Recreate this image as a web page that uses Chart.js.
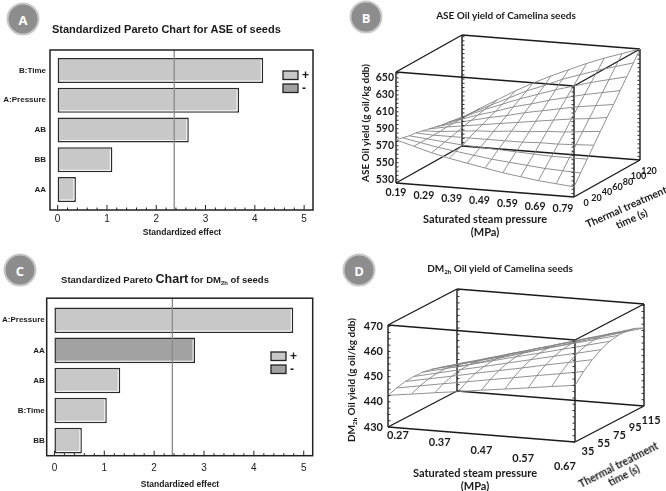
<!DOCTYPE html>
<html><head><meta charset="utf-8">
<script src="https://cdn.jsdelivr.net/npm/chart.js@4.4.1/dist/chart.umd.min.js"></script>
<style>
html,body{margin:0;padding:0;background:#fff;}
body{width:666px;height:491px;position:relative;overflow:hidden;}
.box{position:absolute;}
.t{position:absolute;white-space:nowrap;color:#1a1a1a;transform:translate(-50%,-50%);line-height:1;}
.pt{font-family:"Liberation Sans",Arial,sans-serif;font-weight:bold;}
.lt{font-family:Lato,"Open Sans",sans-serif;font-weight:bold;}
.badge{position:absolute;width:29px;height:29px;border-radius:50%;background:#8d8d8d;border:2px solid #c8c8c8;color:#fff;font:bold 13px "Open Sans",sans-serif;display:flex;align-items:center;justify-content:center;transform:translate(-50%,-50%);}
sub{font-size:62%;vertical-align:-2px;line-height:0;}
</style></head><body>
<div class="box" style="left:0;top:0;width:333px;height:245px"><canvas id="cA"></canvas></div>
<div class="box" style="left:333px;top:0;width:333px;height:245px"><canvas id="cB"></canvas></div>
<div class="box" style="left:0;top:245px;width:333px;height:246px"><canvas id="cC"></canvas></div>
<div class="box" style="left:333px;top:245px;width:333px;height:246px"><canvas id="cD"></canvas></div>

<div class="badge" style="left:23px;top:19px">A</div>
<div class="badge" style="left:366px;top:17px">B</div>
<div class="badge" style="left:20px;top:270px">C</div>
<div class="badge" style="left:359px;top:270px">D</div>

<div class="t pt" style="left:52px;top:29px;font-size:11px;transform:translate(0,-50%)">Standardized Pareto Chart for ASE of seeds</div>
<div class="t pt" style="left:182px;top:232px;font-size:8.5px">Standardized effect</div>
<div class="t pt" style="left:165px;top:279px;font-size:9.5px">Standardized Pareto <span style="font-size:12.5px">Chart</span> for DM<sub>2h</sub> of seeds</div>
<div class="t pt" style="left:180px;top:484px;font-size:8.5px">Standardized effect</div>

<div class="t lt" style="left:506px;top:15px;font-size:10px">ASE Oil yield of Camelina seeds</div>
<div class="t lt" style="left:365px;top:123px;font-size:10px;transform:translate(-50%,-50%) rotate(-90deg)">ASE Oil yield (g oil/kg ddb)</div>
<div class="t lt" style="left:485px;top:218px;font-size:11px">Saturated steam pressure</div>
<div class="t lt" style="left:485px;top:231px;font-size:11px">(MPa)</div>
<div class="t lt" style="left:629px;top:213px;font-size:10.5px;line-height:13px;text-align:center;transform:translate(-50%,-50%) rotate(-24deg)">Thermal treatment<br>time (s)</div>

<div class="t lt" style="left:500px;top:268px;font-size:10px">DM<sub>2h</sub> Oil yield of Camelina seeds</div>
<div class="t lt" style="left:351px;top:380px;font-size:10px;transform:translate(-50%,-50%) rotate(-90deg)">DM<sub>2h</sub> Oil yield (g oil/kg ddb)</div>
<div class="t lt" style="left:475px;top:472px;font-size:11px">Saturated steam pressure</div>
<div class="t lt" style="left:475px;top:485px;font-size:11px">(MPa)</div>
<div class="t lt" style="left:621px;top:470px;font-size:10.5px;line-height:12px;text-align:center;transform:translate(-50%,-50%) rotate(-27deg)">Thermal treatment<br>time (s)</div>

<script>
// ================= DATA =================
// Panel A: Standardized Pareto chart, ASE
const paretoA_terms   = ['B:Time', 'A:Pressure', 'AB', 'BB', 'AA'];
const paretoA_effects = [4.17, 3.68, 2.66, 1.11, 0.37];
const paretoA_signs   = ['+', '+', '+', '+', '+'];
// Panel C: Standardized Pareto chart, DM2h
const paretoC_terms   = ['A:Pressure', 'AA', 'AB', 'B:Time', 'BB'];
const paretoC_effects = [4.79, 2.82, 1.32, 1.05, 0.55];
const paretoC_signs   = ['+', '-', '+', '+', '+'];
const criticalValue   = 2.365;
const paretoTicks     = [0, 1, 2, 3, 4, 5];

// Panel B: ASE oil yield surface (rows = time, cols = pressure)
const aseP = [0.19, 0.25, 0.31, 0.37, 0.43, 0.49, 0.55, 0.61, 0.67, 0.73, 0.79];
const aseT = [0, 12, 24, 36, 48, 60, 72, 84, 96, 108, 120];
const aseYield = [
  [577, 571, 565, 560, 556, 552, 548, 545, 542, 540, 538],
  [575, 571, 567, 564, 561, 558, 556, 554, 552, 551, 550],
  [573, 571, 569, 567, 566, 565, 564, 563, 562, 562, 562],
  [572, 571, 571, 571, 571, 571, 571, 572, 572, 573, 574],
  [570, 571, 573, 575, 576, 578, 579, 581, 582, 584, 586],
  [568, 572, 575, 578, 581, 584, 587, 590, 593, 595, 598],
  [566, 572, 577, 582, 586, 591, 595, 599, 603, 606, 609],
  [564, 572, 579, 585, 592, 597, 603, 608, 613, 617, 621],
  [563, 572, 581, 589, 597, 604, 611, 617, 623, 628, 633],
  [561, 572, 582, 592, 602, 610, 619, 626, 633, 639, 645],
  [559, 572, 584, 596, 607, 617, 626, 635, 643, 650, 657]
];
const asePTicks = [0.19, 0.29, 0.39, 0.49, 0.59, 0.69, 0.79];
const aseTTicks = [0, 20, 40, 60, 80, 100, 120];
const aseZTicks = [530, 550, 570, 590, 610, 630, 650];
const aseRange  = {p: [0.19, 0.79], t: [0, 120], z: [526, 657]};

// Panel D: DM2h oil yield surface (rows = time, cols = pressure)
const dmP = [0.27, 0.32, 0.37, 0.42, 0.47, 0.52, 0.57, 0.62, 0.67];
const dmT = [35, 45, 55, 65, 75, 85, 95, 105, 115];
const dmYield = [
  [442.6, 443.8, 445.1, 446.3, 447.6, 448.8, 450.0, 451.3, 452.5],
  [443.7, 445.3, 446.9, 448.4, 450.0, 451.5, 453.1, 454.6, 456.2],
  [444.5, 446.3, 448.1, 450.0, 451.8, 453.6, 455.5, 457.3, 459.1],
  [444.7, 446.8, 448.9, 450.9, 453.0, 455.1, 457.2, 459.2, 461.3],
  [444.6, 446.8, 449.1, 451.4, 453.7, 455.9, 458.2, 460.5, 462.8],
  [443.9, 446.4, 448.8, 451.2, 453.7, 456.1, 458.6, 461.0, 463.4],
  [442.9, 445.5, 448.0, 450.6, 453.1, 455.7, 458.3, 460.8, 463.4],
  [441.4, 444.1, 446.7, 449.4, 452.0, 454.6, 457.3, 459.9, 462.6],
  [439.5, 442.2, 444.9, 447.6, 450.3, 452.9, 455.6, 458.3, 461.0]
];
const dmPTicks = [0.27, 0.37, 0.47, 0.57, 0.67];
const dmTTicks = [35, 55, 75, 95, 115];
const dmZTicks = [430, 440, 450, 460, 470];
const dmRange  = {p: [0.27, 0.67], t: [35, 115], z: [430, 470.5]};

// ================= RENDERING =================
const POS = '#c8c8c8', NEG = '#a2a2a2', INK = '#1a1a1a';

function paretoChart(id, terms, effects, signs, g) {
  const deco = {
    id: 'paretoDeco',
    afterDatasetsDraw(chart) {
      const ctx = chart.ctx, ca = chart.chartArea, xs = chart.scales.x;
      ctx.save();
      chart.getDatasetMeta(0).data.forEach(b => {
        const p = b.getProps(['x', 'y', 'base', 'height'], true);
        const t = p.y - p.height / 2, bt = p.y + p.height / 2;
        ctx.strokeStyle = 'rgba(255,255,255,0.9)';
        ctx.lineWidth = 1;
        ctx.beginPath();
        ctx.moveTo(p.x - 2, t + 2); ctx.lineTo(p.x - 2, bt - 2); ctx.lineTo(p.base + 2, bt - 2);
        ctx.stroke();
      });
      const xr = xs.getPixelForValue(criticalValue);
      ctx.strokeStyle = '#8a8a8a'; ctx.lineWidth = 1.3;
      ctx.beginPath(); ctx.moveTo(xr, ca.top - g.ft); ctx.lineTo(xr, ca.bottom + g.fb); ctx.stroke();
      ctx.restore();
    },
    afterDraw(chart) {
      const ctx = chart.ctx, ca = chart.chartArea, xs = chart.scales.x;
      const top = ca.top - g.ft, bot = ca.bottom + g.fb;
      ctx.save();
      ctx.strokeStyle = '#222'; ctx.lineWidth = 1.5;
      ctx.strokeRect(ca.left, top, ca.right - ca.left, bot - top);
      ctx.lineWidth = 1;
      const last = paretoTicks[paretoTicks.length - 1];
      for (let k = 0; k <= last * 5; k++) {
        const x = xs.getPixelForValue(k / 5);
        ctx.beginPath(); ctx.moveTo(x, bot); ctx.lineTo(x, bot - (k % 5 === 0 ? 5 : 2.5)); ctx.stroke();
      }
      [['+', POS], ['-', NEG]].forEach((L, i) => {
        const y = g.ly + i * 13;
        ctx.fillStyle = L[1]; ctx.fillRect(g.lx, y, 15, 8.5);
        ctx.strokeStyle = '#222'; ctx.lineWidth = 1.3; ctx.strokeRect(g.lx, y, 15, 8.5);
        ctx.fillStyle = INK; ctx.font = 'bold 12px "Liberation Sans"';
        ctx.textAlign = 'left'; ctx.textBaseline = 'middle';
        ctx.fillText(L[0], g.lx + 19, y + 4.5);
      });
      ctx.restore();
    }
  };
  return new Chart(document.getElementById(id), {
    type: 'bar',
    data: {labels: terms, datasets: [{
      data: effects,
      backgroundColor: signs.map(s => s === '+' ? POS : NEG),
      borderColor: '#2b2b2b', borderWidth: 1.5, borderSkipped: false,
      barPercentage: g.barPct, categoryPercentage: 1
    }]},
    options: {
      indexAxis: 'y', responsive: true, maintainAspectRatio: false, animation: false, events: [],
      layout: {padding: {top: g.top, right: g.right, bottom: 0, left: 0}},
      plugins: {legend: {display: false}, tooltip: {enabled: false}},
      scales: {
        x: {type: 'linear', min: -0.155, max: 5.18,
            afterFit(s) { s.height = g.xH; },
            afterBuildTicks(s) { s.ticks = paretoTicks.map(v => ({value: v})); },
            grid: {display: false, drawTicks: false}, border: {display: false},
            ticks: {padding: g.tickPad, color: INK, font: {family: 'Liberation Sans', size: 10}}},
        y: {afterFit(s) { s.width = g.left; },
            grid: {display: false, drawTicks: false}, border: {display: false},
            ticks: {padding: g.labPad, color: INK, font: {family: 'Liberation Sans', size: 8, weight: 'bold'}}}
      }
    },
    plugins: [deco]
  });
}

function surfaceChart(id, P, T, Z, R, pT, tT, zT, g) {
  const proj = (p, t, z) => {
    const u = (p - R.p[0]) / (R.p[1] - R.p[0]);
    const v = (t - R.t[0]) / (R.t[1] - R.t[0]);
    const w = (z - R.z[0]) / (R.z[1] - R.z[0]);
    return {x: g.o[0] + u * g.vp[0] + v * g.vt[0] + w * g.vz[0],
            y: g.o[1] + u * g.vp[1] + v * g.vt[1] + w * g.vz[1]};
  };
  const ds = [];
  const mesh = pts => ({data: pts, showLine: true, borderColor: '#858585', borderWidth: 0.9, pointRadius: 0, tension: 0});
  T.forEach((t, j) => ds.push(mesh(P.map((p, i) => proj(p, t, Z[j][i])))));
  P.forEach((p, i) => ds.push(mesh(T.map((t, j) => proj(p, t, Z[j][i])))));
  const corner = (a, b, c) => proj(R.p[a], R.t[b], R.z[c]);
  for (let a = 0; a < 2; a++) for (let b = 0; b < 2; b++) for (let c = 0; c < 2; c++) {
    [[1, 0, 0], [0, 1, 0], [0, 0, 1]].forEach(d => {
      if ((d[0] && a) || (d[1] && b) || (d[2] && c)) return;
      ds.push({data: [corner(a, b, c), corner(a + d[0], b + d[1], c + d[2])], showLine: true,
               borderColor: '#1a1a1a', borderWidth: 1.4, pointRadius: 0});
    });
  }
  const labels = {
    id: 'axes3d',
    afterDraw(chart) {
      const ctx = chart.ctx, xs = chart.scales.x, ys = chart.scales.y;
      const px = q => [xs.getPixelForValue(q.x), ys.getPixelForValue(q.y)];
      ctx.save();
      ctx.strokeStyle = '#333'; ctx.lineWidth = 1;
      const zs = (zT[1] - zT[0]) / 4;
      [[0, 0, 1], [0, 1, 1], [1, 1, -1], [1, 0, -1]].forEach(e => {
        for (let z = zT[0] - 4 * zs; z <= R.z[1]; z += zs) {
          if (z < R.z[0]) continue;
          const [x, y] = px(proj(R.p[e[0]], R.t[e[1]], z));
          ctx.beginPath(); ctx.moveTo(x, y); ctx.lineTo(x + 2.5 * e[2], y); ctx.stroke();
        }
      });
      ctx.fillStyle = INK;
      ctx.font = 'bold ' + g.fs + 'px Lato';
      ctx.textBaseline = 'middle';
      ctx.textAlign = 'right';
      zT.forEach(z => { const [x, y] = px(proj(R.p[0], R.t[0], z)); ctx.fillText(String(z), x - g.zGap, y); });
      ctx.textAlign = 'center';
      pT.forEach(p => {
        const u = (p - R.p[0]) / (R.p[1] - R.p[0]);
        const [x, y] = px(proj(p, R.t[0], R.z[0]));
        ctx.fillText(p.toFixed(2), x + g.pOff[0] + u * g.pOff[2], y + g.pOff[1] + u * g.pOff[3]);
      });
      ctx.font = 'bold ' + g.tFs + 'px Lato';
      tT.forEach(t => {
        const v = (t - R.t[0]) / (R.t[1] - R.t[0]);
        const [x, y] = px(proj(R.p[1], t, R.z[0]));
        ctx.fillText(String(t), x + g.tOff[0] + v * g.tOff[2], y + g.tOff[1] + v * g.tOff[3]);
      });
      ctx.restore();
    }
  };
  return new Chart(document.getElementById(id), {
    type: 'scatter',
    data: {datasets: ds},
    options: {
      responsive: true, maintainAspectRatio: false, animation: false, events: [],
      layout: {padding: 0},
      plugins: {legend: {display: false}, tooltip: {enabled: false}},
      scales: {x: {display: false, min: 0, max: 333}, y: {display: false, min: 0, max: g.h, reverse: true}}
    },
    plugins: [labels]
  });
}

paretoChart('cA', paretoA_terms, paretoA_effects, paretoA_signs,
  {top: 55.6, right: 20, left: 50, xH: 40.6, tickPad: 9, labPad: 4, ft: 5.6, fb: 5.6, barPct: 0.84, lx: 283, ly: 71});
paretoChart('cC', paretoC_terms, paretoC_effects, paretoC_signs,
  {top: 60.2, right: 20.3, left: 46.7, xH: 35.3, tickPad: 6.6, labPad: 2, ft: 7, fb: 0, barPct: 0.85, lx: 271, ly: 107});

surfaceChart('cB', aseP, aseT, aseYield, aseRange, asePTicks, aseTTicks, aseZTicks,
  {h: 245, o: [63, 183], vp: [178, 14], vt: [66, -37], vz: [0, -111], fs: 10.5, tFs: 9, zGap: 2,
   pOff: [0, 10, -11, 2], tOff: [12, 6, -3, 5]});
surfaceChart('cD', dmP, dmT, dmYield, dmRange, dmPTicks, dmTTicks, dmZTicks,
  {h: 246, o: [55, 182], vp: [187, 15], vt: [69, -36], vz: [0, -102], fs: 11, tFs: 11, zGap: 5,
   pOff: [10, 8, -20, 16], tOff: [13, 9, -6, 5]});
</script>
</body></html>
